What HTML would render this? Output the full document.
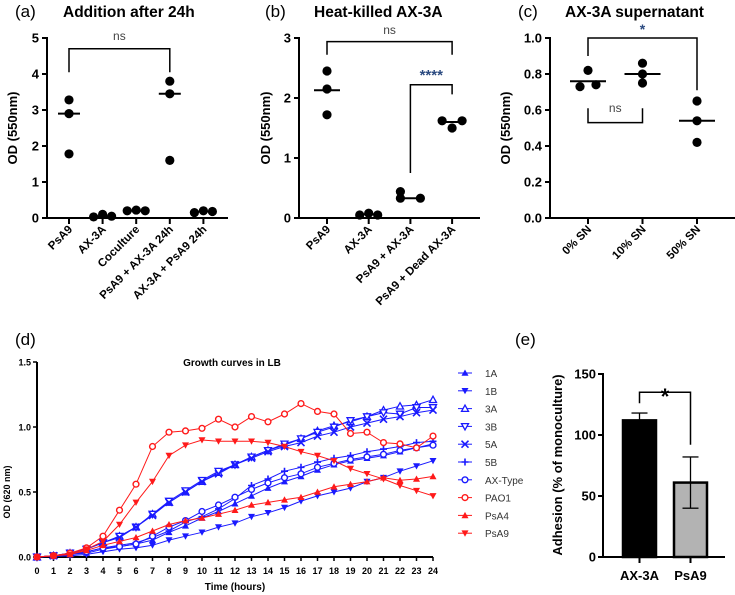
<!DOCTYPE html>
<html><head><meta charset="utf-8"><style>
body{margin:0;background:#fff}
svg{display:block;font-family:"Liberation Sans",Arial,sans-serif}
</style></head><body>
<svg id="s" width="735" height="595" viewBox="0 0 735 595"></svg>
<script>
// Panel a
const catsA=["PsA9","AX-3A","Coculture","PsA9 + AX-3A 24h","AX-3A + PsA9 24h"];
const valsA=[[3.28,2.9,1.78],[0.03,0.1,0.05],[0.2,0.22,0.2],[3.8,3.45,1.6],[0.15,0.2,0.18]];
const medA=[2.9,0.05,0.2,3.45,0.18];
const ticksA=[0,1,2,3,4,5];
// Panel b
const catsB=["PsA9","AX-3A","PsA9 + AX-3A","PsA9 + Dead AX-3A"];
const valsB=[[2.45,2.15,1.72],[0.05,0.08,0.05],[0.44,0.33,0.33],[1.62,1.5,1.62]];
const medB=[2.13,0.06,0.33,1.6];
const ticksB=[0,1,2,3];
// Panel c
const catsC=["0% SN","10% SN","50% SN"];
const valsC=[[0.82,0.73,0.74],[0.86,0.8,0.75],[0.65,0.54,0.42]];
const medC=[0.76,0.8,0.54];
const ticksC=[0,0.2,0.4,0.6,0.8,1.0];
// Panel d
const hoursD=[0,1,2,3,4,5,6,7,8,9,10,11,12,13,14,15,16,17,18,19,20,21,22,23,24];
const namesD=["1A","1B","3A","3B","5A","5B","AX-Type","PAO1","PsA4","PsA9"];
const s1A=[0,0.01,0.02,0.03,0.06,0.08,0.1,0.13,0.19,0.24,0.3,0.35,0.41,0.47,0.53,0.58,0.62,0.67,0.71,0.74,0.76,0.78,0.81,0.84,0.87];
const s1B=[0,0.005,0.01,0.02,0.04,0.06,0.07,0.09,0.13,0.16,0.19,0.23,0.26,0.31,0.34,0.38,0.43,0.47,0.5,0.53,0.58,0.61,0.66,0.7,0.74];
const s3A=[0,0.01,0.03,0.06,0.11,0.16,0.23,0.33,0.42,0.5,0.58,0.65,0.71,0.77,0.82,0.86,0.91,0.97,1.01,1.04,1.08,1.13,1.16,1.17,1.21];
const s3B=[0,0.01,0.03,0.06,0.11,0.16,0.23,0.33,0.43,0.51,0.59,0.66,0.71,0.77,0.82,0.87,0.91,0.96,1.0,1.05,1.08,1.11,1.1,1.15,1.15];
const s5A=[0,0.01,0.03,0.06,0.11,0.15,0.23,0.32,0.42,0.5,0.58,0.64,0.71,0.76,0.81,0.85,0.88,0.93,0.96,1.0,1.03,1.06,1.08,1.11,1.13];
const s5B=[0,0.01,0.02,0.04,0.07,0.09,0.11,0.15,0.2,0.27,0.31,0.37,0.45,0.55,0.6,0.66,0.69,0.73,0.76,0.78,0.81,0.83,0.85,0.88,0.89];
const sAX=[0,0.01,0.02,0.04,0.07,0.08,0.1,0.16,0.23,0.28,0.35,0.4,0.46,0.52,0.57,0.61,0.64,0.69,0.72,0.75,0.77,0.79,0.82,0.84,0.86];
const sPAO1=[0,0.01,0.03,0.07,0.16,0.36,0.56,0.85,0.96,0.97,0.99,1.06,1.0,1.08,1.04,1.1,1.18,1.12,1.1,0.95,0.96,0.88,0.87,0.84,0.93];
const sPsA4=[0,0.01,0.02,0.05,0.09,0.12,0.15,0.2,0.25,0.28,0.3,0.33,0.36,0.4,0.42,0.44,0.46,0.5,0.54,0.56,0.58,0.61,0.59,0.6,0.62];
const sPsA9=[0,0.01,0.02,0.06,0.12,0.25,0.42,0.58,0.78,0.86,0.9,0.89,0.89,0.89,0.88,0.85,0.81,0.78,0.74,0.68,0.64,0.6,0.55,0.51,0.47];
const seriesD=[s1A,s1B,s3A,s3B,s5A,s5B,sAX,sPAO1,sPsA4,sPsA9];
const ticksDY=[0,0.5,1.0,1.5];
// Panel e
const catsE=["AX-3A","PsA9"];
const meansE=[112,61];
const errE=[6,21];
const ticksE=[0,50,100,150];

const NS="http://www.w3.org/2000/svg";
const svg=document.getElementById('s');
function el(tag,attrs,parent,text){const e=document.createElementNS(NS,tag);for(const k in attrs)e.setAttribute(k,attrs[k]);if(text!==undefined)e.textContent=text;(parent||svg).appendChild(e);return e;}
function txt(x,y,t,size,weight,anchor,name,extra){const e=el('text',Object.assign({x:x,y:y,'font-size':size,'font-weight':weight,'text-anchor':anchor,fill:'#000'},extra||{}),null,t);


return e;}
function line(x1,y1,x2,y2,w,name,col){const e=el('line',{x1:x1,y1:y1,x2:x2,y2:y2,stroke:col||'#000','stroke-width':w});


return e;}
function path(d,w,name){const e=el('path',{d:d,stroke:'#000','stroke-width':w,fill:'none'});


return e;}

function dotPanel(o){
  line(o.ax,o.y(o.ticks[o.ticks.length-1])-1,o.ax,o.y(0)+1,2,o.p+'-y-axis');
  line(o.ax-1,o.y(0),o.axEnd,o.y(0),2,o.p+'-x-axis');
  o.ticks.forEach(t=>{line(o.ax-5,o.y(t),o.ax,o.y(t),2,o.p+'-y-tick');
    txt(o.ax-8,o.y(t)+4.5,o.fmt(t),13,'bold','end',o.p+'-y-tick-label');});
  o.cats.forEach((c,i)=>{const x=o.x(i);line(x,o.y(0),x,o.y(0)+6,2,o.p+'-x-tick');
    const tx=x+4,ty=o.y(0)+12;
    txt(tx,ty,c,11.5,'bold','end',o.p+'-category-label',{transform:`rotate(-45 ${tx} ${ty})`});
    o.vals[i].forEach((v,j)=>{const d=el('circle',{cx:x+o.jit[i][j],cy:o.y(v),r:4.6,fill:'#000'});
      
      });
    line(x-o.mw,o.y(o.med[i]),x+o.mw,o.y(o.med[i]),2,o.p+'-median-line');
  });
}
// Panel a
const yA=v=>218-v*36, xA=i=>69+i*33.6;
txt(15,17,'(a)',17,'normal','start','panel-a-label');
txt(63,17,'Addition after 24h',15.5,'bold','start','panel-a-title');
txt(0,0,'OD (550nm)',13,'bold','middle','panel-a-y-title',{transform:'translate(17,128) rotate(-90)'});
dotPanel({p:'a',ax:47,axEnd:228,y:yA,x:xA,ticks:ticksA,fmt:t=>String(t),cats:catsA,vals:valsA,med:medA,mw:11,
  jit:[[0,0,0],[-9,0,9],[-9,0,9],[0,0,0],[-9,0,9]]});
path(`M${xA(0)} ${yA(4.05)}V${yA(4.7)}H${xA(3)}V${yA(4.05)}`,1.5,'a-significance-bracket');
txt((xA(0)+xA(3))/2,yA(4.95),'ns',12,'normal','middle','a-ns-label',{fill:'#444'});
// Panel b
const yB=v=>218-v*60, xB=i=>327+i*41.7;
txt(265,17,'(b)',17,'normal','start','panel-b-label');
txt(314,17,'Heat-killed  AX-3A',15.5,'bold','start','panel-b-title');
txt(0,0,'OD (550nm)',13,'bold','middle','panel-b-y-title',{transform:'translate(270,128) rotate(-90)'});
dotPanel({p:'b',ax:299,axEnd:480,y:yB,x:xB,ticks:ticksB,fmt:t=>String(t),cats:catsB,vals:valsB,med:medB,mw:13,
  jit:[[0,0,0],[-9,0,9],[-10,-10,10],[-10,0,10]]});
path(`M${xB(0)} ${yB(2.72)}V${yB(2.94)}H${xB(3)}V${yB(2.72)}`,1.5,'b-ns-bracket');
txt((xB(0)+xB(3))/2,yB(3.07),'ns',12,'normal','middle','b-ns-label',{fill:'#444'});
path(`M${xB(2)} ${yB(0.75)}V${yB(2.22)}H${xB(3)}V${yB(2.06)}`,1.5,'b-significance-bracket');
txt((xB(2)+xB(3))/2,yB(2.3),'****',15,'bold','middle','b-stars',{fill:'#2b4a80'});
// Panel c
const yC=v=>218-v*180, xC=i=>588+i*54.5;
txt(518,17,'(c)',17,'normal','start','panel-c-label');
txt(565,17,'AX-3A supernatant',15.5,'bold','start','panel-c-title');
txt(0,0,'OD (550nm)',13,'bold','middle','panel-c-y-title',{transform:'translate(510,128) rotate(-90)'});
dotPanel({p:'c',ax:550,axEnd:735,y:yC,x:xC,ticks:ticksC,fmt:t=>t.toFixed(1),cats:catsC,vals:valsC,med:medC,mw:18,
  jit:[[0,-8,8],[0,0,0],[0,0,0]]});
path(`M${xC(0)} ${yC(0.9)}V${yC(1.0)}H${xC(2)}V${yC(0.71)}`,1.5,'c-star-bracket');
txt((xC(0)+xC(2))/2,yC(1.0)-4,'*',14,'bold','middle','c-star',{fill:'#2b4a80'});
path(`M${xC(0)} ${yC(0.61)}V${yC(0.53)}H${xC(1)}V${yC(0.61)}`,1.5,'c-ns-bracket');
txt((xC(0)+xC(1))/2,yC(0.59),'ns',12,'normal','middle','c-ns-label',{fill:'#444'});

// Panel d
const xD=t=>37+t*16.5, yD=v=>557-v*130;
txt(15,345,'(d)',17,'normal','start','panel-d-label');
txt(232,366,'Growth curves in LB',10,'bold','middle','panel-d-title');
txt(0,0,'OD (620 nm)',9,'bold','middle','panel-d-y-title',{transform:'translate(10,492) rotate(-90)'});
txt(235,590,'Time (hours)',10,'bold','middle','panel-d-x-title');
line(37,yD(1.5),37,558,2,'d-y-axis');
line(36,557,433,557,2,'d-x-axis');
ticksDY.forEach(t=>{line(33,yD(t),37,yD(t),1.5,'d-y-tick');txt(31,yD(t)+3.5,t.toFixed(1),9,'bold','end','d-y-tick-label');});
hoursD.forEach(h=>{line(xD(h),557,xD(h),561,1.5,'d-x-tick');txt(xD(h),574,String(h),9,'bold','middle','d-x-tick-label');});
const mkD=['tri','tridown','otri','otridown','x','plus','ocircle','ocircle','tri','tridown'];
const colD=['#1a1aff','#1a1aff','#1a1aff','#1a1aff','#1a1aff','#1a1aff','#1a1aff','#ff1a1a','#ff1a1a','#ff1a1a'];
function marker(x,y,type,c,name){let e;const r=3.5;
  if(type==='tri')e=el('path',{d:`M${x} ${y-r}L${x+r} ${y+r*0.8}L${x-r} ${y+r*0.8}Z`,fill:c});
  else if(type==='tridown')e=el('path',{d:`M${x} ${y+r}L${x+r} ${y-r*0.8}L${x-r} ${y-r*0.8}Z`,fill:c});
  else if(type==='otri')e=el('path',{d:`M${x} ${y-r}L${x+r} ${y+r*0.8}L${x-r} ${y+r*0.8}Z`,fill:'#fff',stroke:c,'stroke-width':1.3});
  else if(type==='otridown')e=el('path',{d:`M${x} ${y+r}L${x+r} ${y-r*0.8}L${x-r} ${y-r*0.8}Z`,fill:'#fff',stroke:c,'stroke-width':1.3});
  else if(type==='x')e=el('path',{d:`M${x-r} ${y-r}L${x+r} ${y+r}M${x-r} ${y+r}L${x+r} ${y-r}`,stroke:c,'stroke-width':1.6});
  else if(type==='plus')e=el('path',{d:`M${x-r} ${y}H${x+r}M${x} ${y-r}V${y+r}`,stroke:c,'stroke-width':1.6});
  else e=el('circle',{cx:x,cy:y,r:2.9,fill:'#fff',stroke:c,'stroke-width':1.4});
  
  
}
seriesD.forEach((ser,k)=>{
  const pl=el('polyline',{points:ser.map((v,i)=>xD(hoursD[i])+','+yD(v)).join(' '),fill:'none',stroke:colD[k],'stroke-width':1});
  
  
  ser.forEach((v,i)=>marker(xD(hoursD[i]),yD(v),mkD[k],colD[k],'d-point-'+namesD[k]));
});
namesD.forEach((n,k)=>{const y=373+k*17.8;
  line(458,y,472,y,1,'legend-line-'+n,colD[k]);
  marker(465,y,mkD[k],colD[k],'legend-marker-'+n);
  txt(485,y+4,n,10,'normal','start','legend-entry-'+n,{fill:'#333'});});

// Panel e
const yE=v=>557-v*1.22, xE=i=>639.5+i*51;
txt(515,345,'(e)',17,'normal','start','panel-e-label');
txt(0,0,'Adhesion (% of monoculture)',13,'bold','middle','panel-e-y-title',{transform:'translate(562,465) rotate(-90)'});
const fillE=['#000','#b3b3b3'];
catsE.forEach((c,i)=>{const x=xE(i);
  const b=el('rect',{x:x-16.5,y:yE(meansE[i]),width:33,height:557-yE(meansE[i]),fill:fillE[i],stroke:'#000','stroke-width':2.5});
  
  
  line(x,yE(meansE[i]+errE[i]),x,yE(meansE[i]-errE[i]),1.3,'error-bar-'+c);
  line(x-8,yE(meansE[i]+errE[i]),x+8,yE(meansE[i]+errE[i]),1.3,'error-cap-'+c);
  line(x-8,yE(meansE[i]-errE[i]),x+8,yE(meansE[i]-errE[i]),1.3,'error-cap-'+c);
  line(x,557,x,563,2,'e-x-tick');
  txt(x,580,c,13,'bold','middle','e-category-label');});
line(603,yE(150)-1,603,558,2,'e-y-axis');
line(602,557,725,557,2,'e-x-axis');
ticksE.forEach(t=>{line(598,yE(t),603,yE(t),2,'e-y-tick');txt(596,yE(t)+4.5,String(t),13,'bold','end','e-y-tick-label');});
path(`M${xE(0)} ${yE(126)}V${yE(135)}H${xE(1)}V${yE(92)}`,1.5,'e-significance-bracket');
txt((xE(0)+xE(1))/2,yE(136)+13,'*',22,'bold','middle','e-star');
</script>
</body></html>
